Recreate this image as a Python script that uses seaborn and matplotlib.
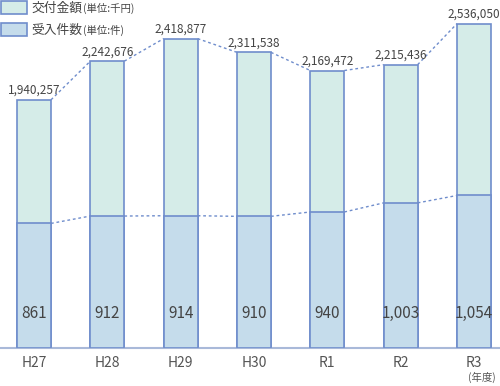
import matplotlib
matplotlib.use('Agg')
import matplotlib.pyplot as plt
import seaborn as sns
from matplotlib.patches import Rectangle

# データ
years = ['H27', 'H28', 'H29', 'H30', 'R1', 'R2', 'R3']
amount = [1940257, 2242676, 2418877, 2311538, 2169472, 2215436, 2536050]  # 交付金額(千円)
count = [861, 912, 914, 910, 940, 1003, 1054]  # 受入件数(件)

green = '#d5ece8'
blue = '#c5dceb'
edge = '#6f8dcc'
txt = '#444444'
w = 0.4636

sns.set_style('white')
plt.rcParams['font.family'] = ['Noto Sans CJK JP', 'DejaVu Sans']

fig = plt.figure(figsize=(5, 3.86), dpi=100)
ax = fig.add_axes([0, 38 / 386, 1, 348 / 386])
ax2 = ax.twinx()

# 交付金額(背面)
sns.barplot(x=years, y=amount, ax=ax, color=green, edgecolor=edge,
            linewidth=1.2, width=w, saturation=1)
# 受入件数(前面)
sns.barplot(x=years, y=count, ax=ax2, color=blue, edgecolor=edge,
            linewidth=1.2, width=w, saturation=1)

for a in (ax, ax2):
    a.set_xlim(-34 / 73.33, (500 - 34) / 73.33)
    for s in a.spines.values():
        s.set_visible(False)
    a.set_ylabel('')
    a.set_yticks([])
ax.set_ylim(0, 2720875)
ax2.set_ylim(0, 2405)

ax.spines['bottom'].set_visible(True)
ax.spines['bottom'].set_color('#a9b9d9')
ax.spines['bottom'].set_linewidth(1.5)
ax.tick_params(axis='x', length=0, pad=6, labelsize=10, labelcolor='#555555')
ax2.tick_params(axis='x', length=0)

# 点線
for i in range(len(years) - 1):
    ax.plot([i + w / 2, i + 1 - w / 2], [amount[i], amount[i + 1]],
            ls=(0, (2, 2)), color=edge, lw=1)
    ax2.plot([i + w / 2, i + 1 - w / 2], [count[i], count[i + 1]],
             ls=(0, (2, 2)), color=edge, lw=1)

# 数値ラベル
for i, v in enumerate(amount):
    ax.annotate(f'{v:,}', (i, v), xytext=(0, 2), textcoords='offset points',
                ha='center', va='bottom', fontsize=8.5, color=txt)
for i, v in enumerate(count):
    ax2.text(i, 35 / 0.1447, f'{v:,}', ha='center', va='center',
             fontsize=11, color=txt)

fig.text(482 / 500, 1 - 377 / 386, '(年度)', ha='center', va='center',
         fontsize=7.5, color='#555555')

# 凡例
legend_items = [('交付金額', '(単位:千円)', green, 8),
                ('受入件数', '(単位:件)', blue, 30)]
for name, unit, col, py in legend_items:
    fig.add_artist(Rectangle((1 / 500, 1 - (py + 6) / 386), 26 / 500, 13 / 386,
                             transform=fig.transFigure, facecolor=col,
                             edgecolor=edge, lw=1.2))
    t = fig.text(31 / 500, 1 - py / 386, name, ha='left', va='center',
                 fontsize=9.2, color=txt)
    ax2.annotate(unit, xy=(1, 0.5), xycoords=t, xytext=(1, -0.5),
                 textcoords='offset points', ha='left', va='center',
                 fontsize=7.5, color=txt, annotation_clip=False)

fig.savefig('out.png', dpi=100)
